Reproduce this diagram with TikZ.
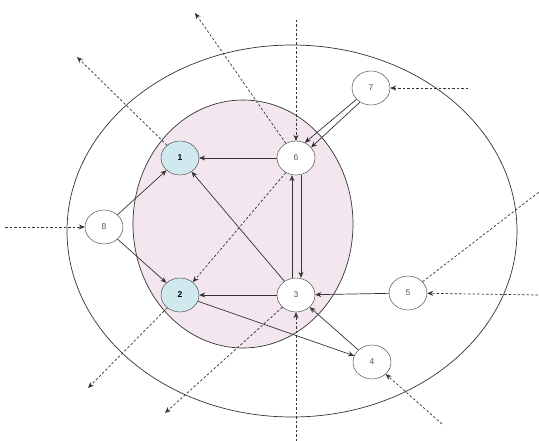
\documentclass[tikz,border=0pt]{standalone}
\usepackage{fontspec}
\setmainfont{Liberation Sans}
\usetikzlibrary{shapes.geometric,arrows.meta}
\definecolor{pinkfill}{HTML}{F3E6EF}
\definecolor{bluefill}{HTML}{CFE9EE}
\definecolor{txtgray}{HTML}{555555}
\definecolor{linegray}{HTML}{333333}
\tikzset{
  nd/.style={ellipse,draw=linegray,fill=white,minimum width=38pt,minimum height=34pt,inner sep=0pt,font=\fontsize{8.5}{10}\selectfont,text=txtgray},
  blue/.style={nd,fill=bluefill,text=black,font=\fontsize{8.5}{10}\selectfont\bfseries},
  sol/.style={draw=linegray,line width=0.7pt,-{Stealth[length=6pt,width=5pt]}},
  dsh/.style={draw=linegray,line width=0.7pt,dash pattern=on 2.5pt off 2pt,-{Stealth[length=6pt,width=5pt]}},
  dshn/.style={draw=linegray,line width=0.7pt,dash pattern=on 2.5pt off 2pt},
}
\begin{document}
\begin{tikzpicture}[x=1pt,y=-1pt]
\useasboundingbox (0,0) rectangle (539,441);
% outer ellipse
\draw[linegray,line width=0.7pt] (292,231) ellipse [x radius=225, y radius=186];
% inner ellipse
\draw[linegray,line width=0.7pt,fill=pinkfill] (243,224) ellipse [x radius=110, y radius=124];
% nodes
\node[blue] (n1) at (180,158) {1};
\node[blue] (n2) at (180,295) {2};
\node[nd] (n3) at (296,295) {3};
\node[nd] (n4) at (372,362) {4};
\node[nd] (n5) at (408,293) {5};
\node[nd] (n6) at (296,158) {6};
\node[nd] (n7) at (371,88) {7};
\node[nd] (n8) at (104,227) {8};
% free-end coordinates
\coordinate (o1) at (77,57);
\coordinate (o6) at (195,13);
\coordinate (t6) at (296,20);
\coordinate (r7) at (468,88);
\coordinate (l8) at (5,227);
\coordinate (o2) at (88,388);
\coordinate (o3) at (165,413);
\coordinate (b3) at (296,441);
\coordinate (o5) at (539,192);
\coordinate (r5) at (538,295);
\coordinate (b4) at (442,424);
% solid connectors
\draw[sol] (n6) -- (n1);
\draw[sol] (n3) -- (n1);
\draw[sol] (n3) -- (n2);
\draw[sol] (n8) -- (n1);
\draw[sol] (n8) -- (n2);
\draw[sol] (n2) -- (n4);
\draw[sol] (n4) -- (n3);
\draw[sol] (n5) -- (n3);
\draw[sol] ([xshift=-4pt]n3.north) -- ([xshift=-4pt]n6.south);
\draw[sol] ([xshift=5pt]n6.south) -- ([xshift=5pt]n3.north);
\draw[sol] (n7.218) -- (n6.60);
\draw[sol] (n7.232) -- (n6.35);
% dashed connectors
\draw[dsh] (n1) -- (o1);
\draw[dsh] (n6) -- (o6);
\draw[dsh] (t6) -- (n6);
\draw[dsh] (r7) -- (n7);
\draw[dsh] (n6.235) -- (n2.45);
\draw[dsh] (l8) -- (n8);
\draw[dsh] (n2) -- (o2);
\draw[dsh] (n3) -- (o3);
\draw[dsh] (b3) -- (n3);
\draw[dshn] (n5) -- (o5);
\draw[dsh] (r5) -- (n5);
\draw[dsh] (b4) -- (n4);
\end{tikzpicture}
\end{document}
